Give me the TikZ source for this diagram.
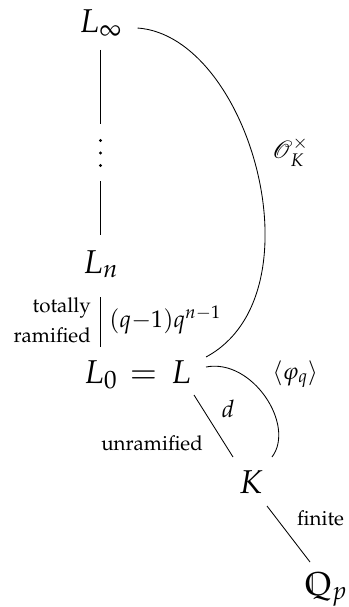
\documentclass[tikz,border=0pt]{standalone}
\usepackage[T1]{fontenc}
\usepackage{mathpazo}
\usepackage{amssymb}
\usepackage{mathrsfs}
\tikzset{
  big/.style={font=\fontsize{33}{40}\selectfont, inner sep=0pt},
  lab/.style={font=\fontsize{20.5}{30}\selectfont, inner sep=0pt},
  mlab/.style={font=\fontsize{24}{30}\selectfont, inner sep=0pt},
  edge/.style={line width=0.85pt},
}
\begin{document}
\begin{tikzpicture}[x=1pt,y=-1pt]
\useasboundingbox (0,0) rectangle (348,607);
% main nodes
\node[big, anchor=base] (Linf) at (100.5,33) {$L_\infty$};
\node[inner sep=0pt, minimum height=40pt, minimum width=4pt] (dots) at (100.5,153) {};
\node[big, anchor=base] (Ln) at (100.5,273) {$L_n$};
\node[big, anchor=base] (L0) at (100.5,383) {$L_0$};
\node[big, anchor=base] (eq) at (143.5,383) {$=$};
\node[big, anchor=base] (L) at (181,383) {$L$};
\node[big, anchor=base] (K) at (251,493) {$K$};
\node[big, anchor=base] (Qp) at (326,595) {$\mathbb{Q}_p$};
% dots
\fill (dots.center) circle (1.7pt);
\fill ([yshift=12.5pt]dots.center) circle (1.7pt);
\fill ([yshift=-12.5pt]dots.center) circle (1.7pt);
% labels
\node[lab, anchor=base east] (tot) at (91,312) {totally};
\node[lab, anchor=base east] (ram) at (91,342) {ramified};
\node[mlab, anchor=base west] (deg) at (109,327) {$(q{-}1)q^{n-1}$};
\node[mlab, anchor=base west] (OK) at (272,158) {$\mathscr{O}_K^\times$};
\node[mlab, anchor=base west] (phi) at (272,379) {$\langle\varphi_q\rangle$};
\node[mlab, anchor=base] (dlab) at (228,417) {$d$};
\node[lab, anchor=base east] (unr) at (203,450) {unramified};
\node[lab, anchor=base west] (fin) at (297,525) {finite};
% connectors
\draw[edge] ([yshift=-17pt]Linf.base) -- ([yshift=29pt]dots.center);
\draw[edge] ([yshift=-28pt]dots.center) -- ([yshift=38pt]Ln.base);
\draw[edge] ([yshift=-24pt]Ln.base) -- ([yshift=36pt]L0.base);
\draw[edge] ([shift={(13pt,-12pt)}]L.base) -- ([shift={(-18pt,36pt)}]K.base);
\draw[edge] ([shift={(16pt,-13pt)}]K.base) -- ([shift={(-16pt,33pt)}]Qp.base);
\draw[edge] ([shift={(37pt,5pt)}]Linf.base) .. controls (250,36) and (322,295) .. ([shift={(25pt,26pt)}]L.base);
\draw[edge] ([shift={(25pt,16pt)}]L.base) .. controls (252,358) and (296,425) .. ([shift={(21pt,36pt)}]K.base);
\end{tikzpicture}
\end{document}
